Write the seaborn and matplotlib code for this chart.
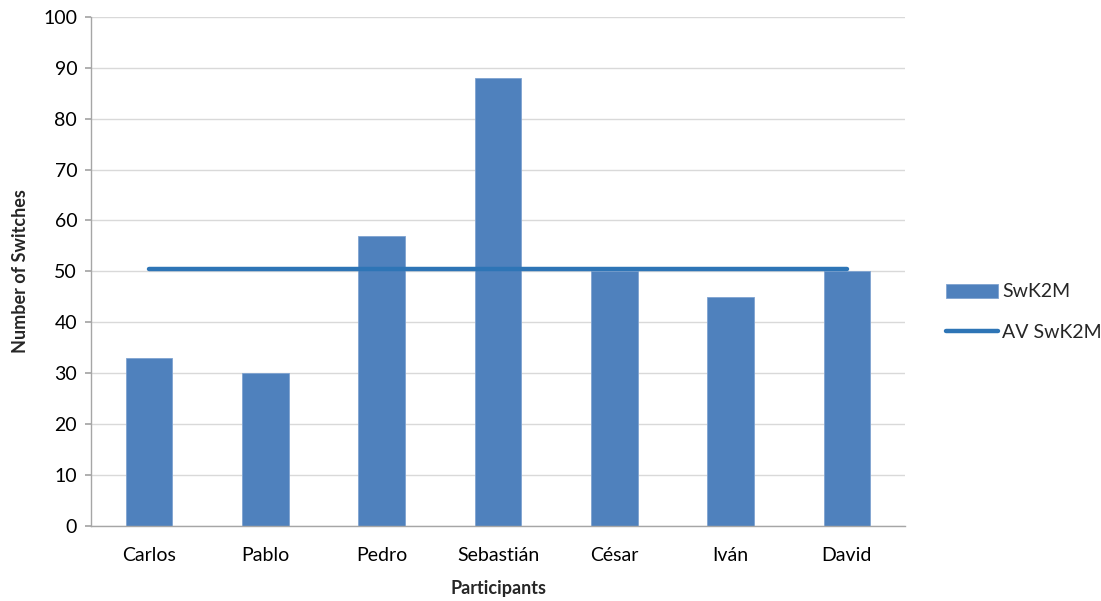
import numpy as np
import pandas as pd
import matplotlib
matplotlib.use("Agg")
import matplotlib.pyplot as plt
import seaborn as sns

participants = ["Carlos", "Pablo", "Pedro", "Sebastián", "César", "Iván", "David"]
switches = [33, 30, 57, 88, 50, 45, 50]
y_ticks = [0, 10, 20, 30, 40, 50, 60, 70, 80, 90, 100]

bar_color = "#4F81BD"
line_color = "#2E75B6"

sns.set_theme(style="white")
plt.rcParams["font.family"] = ["Lato", "DejaVu Sans"]

df = pd.DataFrame({"Participant": participants, "Switches": switches})
average = float(np.mean(switches))

fig = plt.figure(figsize=(11.01, 6.01), dpi=100)
ax = fig.add_axes([0.0827, 0.125, 0.7393, 0.847])

sns.barplot(data=df, x="Participant", y="Switches", color=bar_color,
            width=0.4, saturation=1, ax=ax, label="SwK2M", zorder=2,
            edgecolor="#7FA3D1", linewidth=0.6)
sns.lineplot(x=np.arange(len(participants)), y=[average] * len(participants),
             color=line_color, linewidth=3.2, ax=ax, label="AV SwK2M", zorder=3)

ax.set_xlim(-0.5, len(participants) - 0.5)
ax.set_ylim(0, 100)
ax.set_yticks(y_ticks)
ax.set_xticks(range(len(participants)))
ax.set_xticklabels(participants)
ax.yaxis.grid(True, color="#D9D9D9", linewidth=1, zorder=0)
ax.set_axisbelow(True)

for side in ["top", "right"]:
    ax.spines[side].set_visible(False)
for side in ["left", "bottom"]:
    ax.spines[side].set_color("#A6A6A6")
    ax.spines[side].set_linewidth(1)

ax.tick_params(axis="y", left=True, length=4, color="#A6A6A6", labelsize=14, pad=6)
ax.tick_params(axis="x", bottom=False, labelsize=14, pad=9)
for t in ax.get_xticklabels() + ax.get_yticklabels():
    t.set_color("#000000")

ax.set_xlabel("Participants", fontsize=13, fontweight="bold", labelpad=12)
ax.set_ylabel("Number of Switches", fontsize=13, fontweight="bold", labelpad=10)

handles, labels = ax.get_legend_handles_labels()
order = [labels.index("SwK2M"), labels.index("AV SwK2M")]
leg = ax.legend([handles[i] for i in order], [labels[i] for i in order],
                loc="center left", bbox_to_anchor=(1.05, 0.42), frameon=False,
                borderaxespad=0, borderpad=0,
                fontsize=14, handlelength=2.7, handleheight=0.75,
                handletextpad=0.2, labelspacing=1.2)

fig.savefig("out.png", dpi=100)
